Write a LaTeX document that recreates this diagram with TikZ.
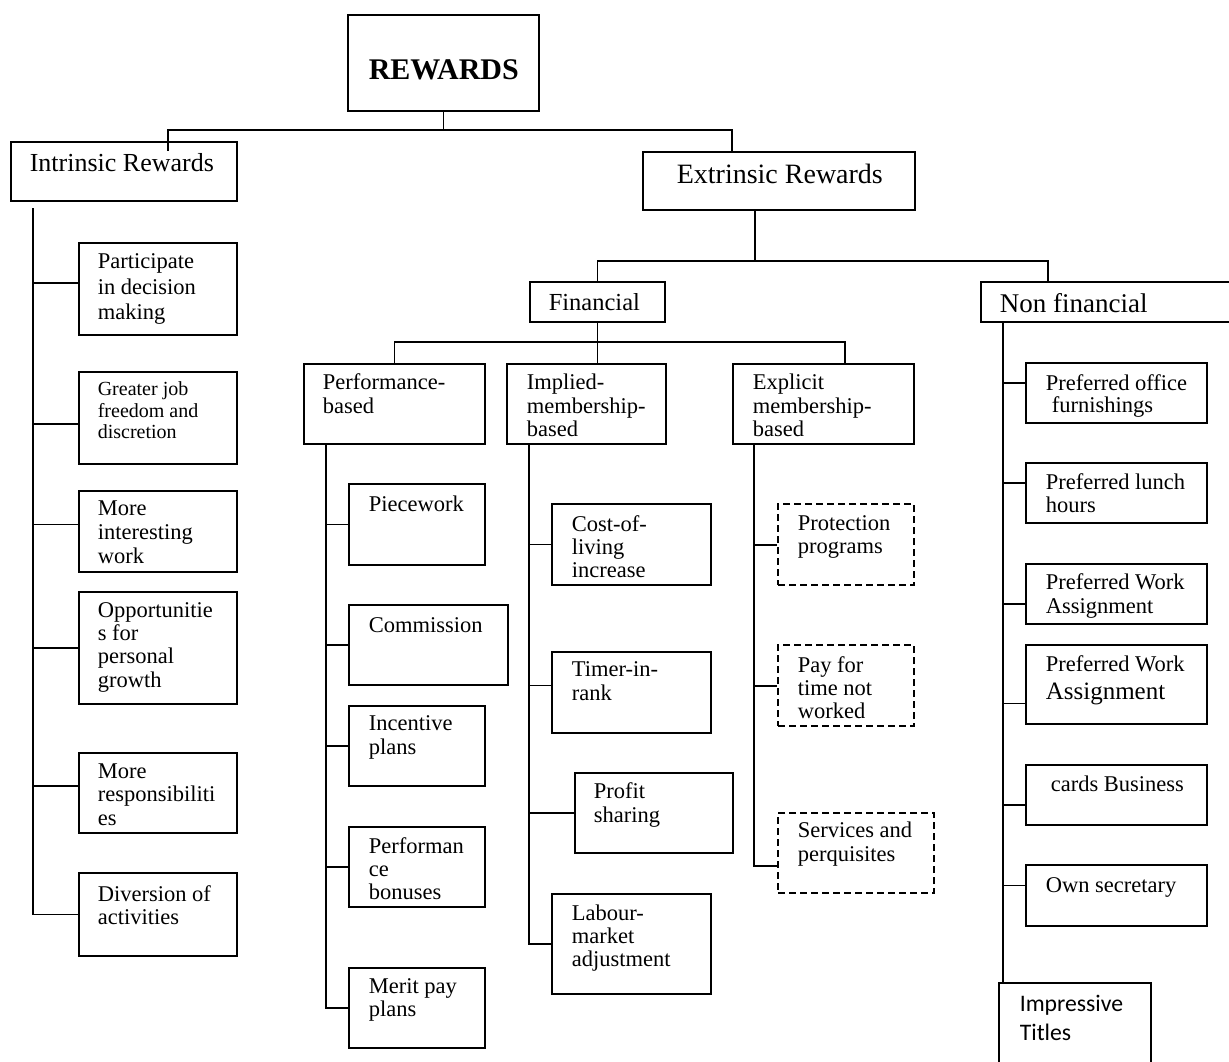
\documentclass[tikz,border=0pt]{standalone}
\usepackage{fontspec}
\setmainfont{Liberation Serif}
\newfontfamily\calibri{Carlito}

\begin{document}
\begin{tikzpicture}[x=1pt, y=-1pt, line width=1.6pt,
    box/.style={draw, rectangle, inner sep=0pt, anchor=north west},
    dbox/.style={box, line width=2.4pt, dash pattern=on 7pt off 4pt},
    wh/.style 2 args={minimum width=#1pt, minimum height=#2pt},
    lbl/.style 2 args={anchor=north west, inner sep=0pt, align=left,
      font=\fontsize{#1}{#2}\selectfont, execute at begin node=\strut, yshift=0.7*#2},
    txt/.style={lbl={22.5}{24}}]
    \path[use as bounding box] (0,0) rectangle (1229,1062);
    \clip (0,0) rectangle (1229,1062);

    % boxes
    \node[box, wh={191}{96}]  (rew)    at (347,14)  {};
    \node[box, wh={226}{59}]  (intr)   at (10,141)  {};
    \node[box, wh={272}{58}]  (extr)   at (642,151) {};
    \node[box, wh={135}{40}]  (fin)    at (529,281) {};
    \node[box, wh={260}{40}]  (nonfin) at (980,281) {};
    \node[box, wh={181}{80}]  (perf)   at (303,363) {};
    \node[box, wh={159}{80}]  (impl)   at (506,363) {};
    \node[box, wh={181}{80}]  (expl)   at (732,363) {};

    \node[box, wh={158}{92}]  (part)    at (78,242) {};
    \node[box, wh={158}{92}]  (greater) at (78,371) {};
    \node[box, wh={158}{81}]  (inter)   at (78,490) {};
    \node[box, wh={158}{112}] (oppor)   at (78,591) {};
    \node[box, wh={158}{80}]  (resp)    at (78,752) {};
    \node[box, wh={158}{83}]  (divr)    at (78,872) {};

    \node[box, wh={136}{81}]  (piece) at (348,483) {};
    \node[box, wh={159}{80}]  (comm)  at (348,604) {};
    \node[box, wh={136}{80}]  (incen) at (348,705) {};
    \node[box, wh={136}{80}]  (pbon)  at (348,826) {};
    \node[box, wh={136}{80}]  (merit) at (348,967) {};

    \node[box, wh={159}{81}]  (cost)   at (551,503) {};
    \node[box, wh={159}{81}]  (timer)  at (551,651) {};
    \node[box, wh={158}{80}]  (profit) at (574,772) {};
    \node[box, wh={159}{100}] (labour) at (551,893) {};

    \node[dbox, wh={136}{81}] (prot) at (777,503) {};
    \node[dbox, wh={136}{81}] (payt) at (777,644) {};
    \node[dbox, wh={156}{80}] (serv) at (777,812) {};

    \node[box, wh={181}{60}]  (office) at (1025,362) {};
    \node[box, wh={181}{60}]  (lunch)  at (1025,462) {};
    \node[box, wh={181}{60}]  (pwa)    at (1025,563) {};
    \node[box, wh={181}{79}]  (pwb)    at (1025,644) {};
    \node[box, wh={181}{60}]  (cards)  at (1025,764) {};
    \node[box, wh={181}{61}]  (own)    at (1025,864) {};
    \node[box, wh={152}{95}]  (titles) at (998,982) {};

    % texts
    \node[lbl={30}{36}]     (rew-t)    at (368,79)  {\bfseries REWARDS};
    \node[lbl={26}{30}]     (intr-t)   at (29,171)  {Intrinsic Rewards};
    \node[lbl={28}{32}]     (extr-t)   at (676,183) {Extrinsic Rewards};
    \node[lbl={24.5}{28}]   (fin-t)    at (548,310) {Financial};
    \node[lbl={27}{31}]     (nonfin-t) at (999,312) {Non financial};
    \node[txt]              (perf-t)   at (322,390) {Performance-\\based};
    \node[lbl={22.5}{23.5}] (impl-t)   at (526,390) {Implied-\\membership-\\based};
    \node[lbl={22.5}{23.5}] (expl-t)   at (752,390) {Explicit\\membership-\\based};

    \node[lbl={22.5}{25.5}] (part-t)    at (97,271) {Participate\\in decision\\making};
    \node[lbl={20}{21.5}]   (greater-t) at (97,396) {Greater job\\freedom and\\discretion};
    \node[txt]              (inter-t)   at (97,517) {More\\interesting\\work};
    \node[lbl={22.5}{23.3}] (oppor-t)   at (97,618) {Opportunitie\\s for\\personal\\growth};
    \node[lbl={22.5}{23.5}] (resp-t)    at (97,779) {More\\responsibiliti\\es};
    \node[lbl={22.5}{22.5}] (divr-t)    at (97,901) {Diversion of\\activities};

    \node[txt]              (piece-t) at (368,511) {Piecework};
    \node[txt]              (comm-t)  at (368,632) {Commission};
    \node[txt]              (incen-t) at (368,732) {Incentive\\plans};
    \node[lbl={22.5}{23}]   (pbon-t)  at (368,853) {Performan\\ce\\bonuses};
    \node[lbl={22.5}{23}]   (merit-t) at (368,994) {Merit pay\\plans};

    \node[lbl={22.5}{23.3}] (cost-t)   at (571,531) {Cost-of-\\living\\increase};
    \node[txt]              (timer-t)  at (571,678) {Timer-in-\\rank};
    \node[txt]              (profit-t) at (593,799) {Profit\\sharing};
    \node[lbl={22.5}{23.3}] (labour-t) at (571,920) {Labour-\\market\\adjustment};

    \node[lbl={22.5}{23.3}] (prot-t) at (797,531) {Protection\\programs};
    \node[lbl={22.5}{23}]   (payt-t) at (797,672) {Pay for\\time not\\worked};
    \node[txt]              (serv-t) at (797,838) {Services and\\perquisites};

    \node[lbl={22.5}{22}]   (office-t) at (1045,389) {Preferred office\\\hspace{6pt}furnishings};
    \node[lbl={22.5}{23.3}] (lunch-t)  at (1045,489) {Preferred lunch\\hours};
    \node[txt]              (pwa-t)    at (1045,590) {Preferred Work\\Assignment};
    \node[txt]              (pwb-t)    at (1045,672) {Preferred Work\\[4pt]{\fontsize{25}{28}\selectfont Assignment}};
    \node[txt]              (cards-t)  at (1050,791) {cards Business};
    \node[txt]              (own-t)    at (1045,892) {Own secretary};
    \node[lbl={23.7}{29}, font=\calibri\fontsize{23.7}{29}\selectfont] (titles-t) at (1019,1015) {Impressive\\Titles};

    % top level
    \coordinate (rbusl) at (168,130);
    \coordinate (rbusr) at (732,130);
    \coordinate (intrtip) at (168,151);
    \draw (rew.south) -- (rew.south |- rbusl);
    \draw (intrtip) -- (rbusl) -- (rbusr) -- (rbusr |- extr.north);

    % extrinsic
    \coordinate (ebus) at (755,261);
    \coordinate (nbus) at (1048,261);
    \draw (ebus |- extr.south) -- (ebus);
    \draw (fin.north) |- (nbus) -- (nbus |- nonfin.north);

    % financial
    \coordinate (fbusr) at (845,342);
    \draw (perf.north) |- (fbusr) -- (fbusr |- expl.north);
    \draw (fin.south) -- (fin.south |- impl.north);

    % trunks
    \coordinate (itrunk) at (33,208);
    \coordinate (ptrunk) at (326,443);
    \coordinate (mtrunk) at (529,443);
    \coordinate (xtrunk) at (754,443);
    \coordinate (ntrunk) at (1003,321);
    \draw (itrunk) |- (divr.west);
    \draw (ptrunk) |- (merit.west);
    \draw (mtrunk) |- (labour.west);
    \draw (xtrunk) |- ([yshift=-13pt]serv.west);
    \draw (ntrunk) -- (ntrunk |- titles.north);

    % intrinsic branches
    \draw ([yshift=6pt]part.west) -- ([yshift=6pt]part.west -| itrunk);
    \draw ([yshift=-6pt]greater.west) -- ([yshift=-6pt]greater.west -| itrunk);
    \draw ([yshift=7pt]inter.west) -- ([yshift=7pt]inter.west -| itrunk);
    \draw (oppor.west) -- (oppor.west -| itrunk);
    \draw ([yshift=7pt]resp.west) -- ([yshift=7pt]resp.west -| itrunk);

    % performance-based branches
    \draw (piece.west) -- (piece.west -| ptrunk);
    \draw (comm.west) -- (comm.west -| ptrunk);
    \draw (incen.west) -- (incen.west -| ptrunk);
    \draw (pbon.west) -- (pbon.west -| ptrunk);

    % implied branches
    \draw (cost.west) -- (cost.west -| mtrunk);
    \draw ([yshift=7pt]timer.west) -- ([yshift=7pt]timer.west -| mtrunk);
    \draw (profit.west) -- (profit.west -| mtrunk);

    % explicit branches
    \draw (prot.west) -- (prot.west -| xtrunk);
    \draw (payt.west) -- (payt.west -| xtrunk);

    % non financial branches
    \draw ([yshift=10pt]office.west) -- ([yshift=10pt]office.west -| ntrunk);
    \draw ([yshift=10pt]lunch.west) -- ([yshift=10pt]lunch.west -| ntrunk);
    \draw ([yshift=-10pt]pwa.west) -- ([yshift=-10pt]pwa.west -| ntrunk);
    \draw ([yshift=-19pt]pwb.west) -- ([yshift=-19pt]pwb.west -| ntrunk);
    \draw ([yshift=-10pt]cards.west) -- ([yshift=-10pt]cards.west -| ntrunk);
    \draw ([yshift=10pt]own.west) -- ([yshift=10pt]own.west -| ntrunk);
  \end{tikzpicture}
\end{document}
